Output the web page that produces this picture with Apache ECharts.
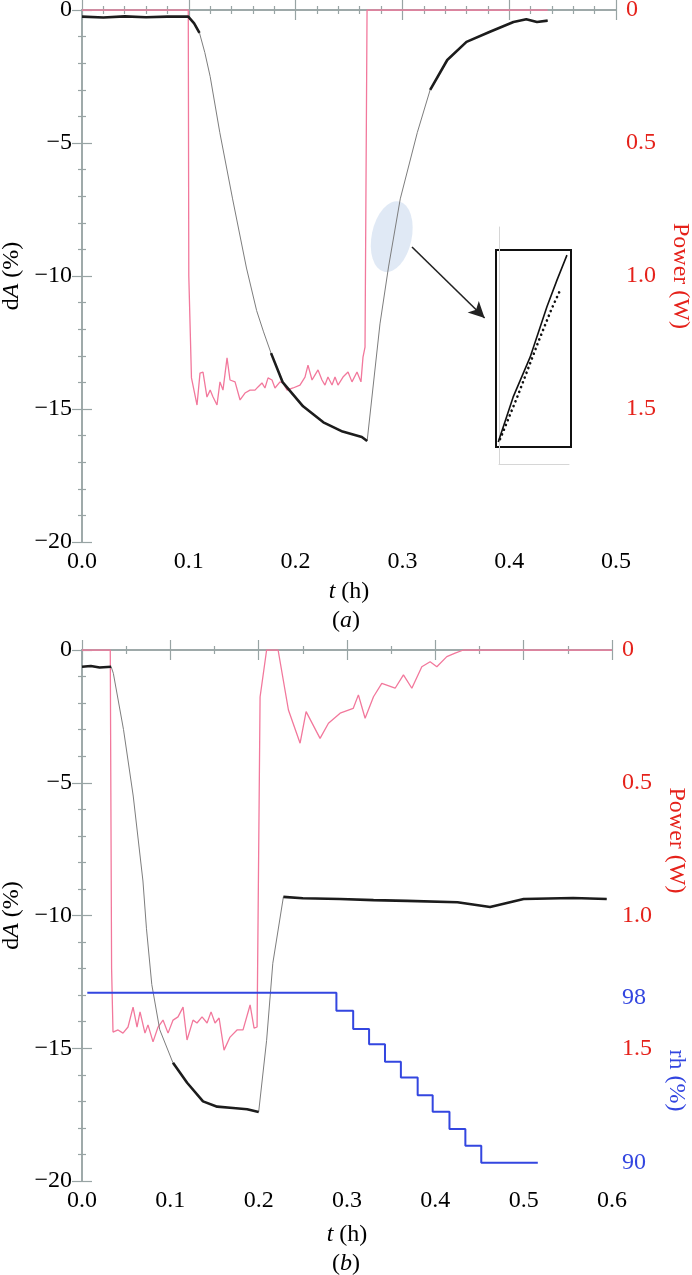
<!DOCTYPE html>
<html>
<head>
<meta charset="utf-8">
<script src="https://cdn.jsdelivr.net/npm/echarts@6/dist/echarts.min.js"></script>
<style>
  html, body { margin: 0; padding: 0; background: #fff; }
  #chart { width: 692px; height: 1275px; }
</style>
</head>
<body>
<div id="chart"></div>
<script>
// ---- panel (a) : [t (h), value] ----
var dA_a = [
  [0, -0.25], [0.02, -0.28], [0.04, -0.24], [0.06, -0.27], [0.08, -0.25], [0.0995, -0.25],
  [0.105, -0.5], [0.110, -0.86], [0.115, -1.6], [0.120, -2.5], [0.129, -4.6], [0.141, -7.1],
  [0.154, -9.7], [0.1635, -11.3], [0.170, -12.1], [0.177, -12.9], [0.188, -14.0], [0.207, -14.9],
  [0.226, -15.5], [0.244, -15.85], [0.262, -16.05], [0.267, -16.2],
  [0.279, -11.8], [0.287, -9.66], [0.298, -7.1], [0.314, -4.6], [0.326, -3.0], [0.342, -1.88],
  [0.360, -1.2], [0.382, -0.82], [0.404, -0.45], [0.416, -0.35], [0.426, -0.45], [0.436, -0.4]
];
var power_a = [
  [0, 0], [0.0995, 0], [0.1, 1.0], [0.1025, 1.383], [0.1077, 1.485], [0.1105, 1.365], [0.1133, 1.361],
  [0.117, 1.455], [0.12, 1.429], [0.1227, 1.455], [0.1264, 1.485], [0.1292, 1.398], [0.132, 1.429],
  [0.1358, 1.308], [0.1386, 1.391], [0.1433, 1.398], [0.148, 1.466], [0.1526, 1.44], [0.1573, 1.429],
  [0.162, 1.429], [0.1648, 1.417], [0.1685, 1.402], [0.1713, 1.421], [0.1742, 1.383], [0.1779, 1.391],
  [0.1807, 1.421], [0.1854, 1.398], [0.1882, 1.402], [0.192, 1.429], [0.1976, 1.421], [0.2041, 1.41],
  [0.2088, 1.38], [0.2116, 1.335], [0.2154, 1.391], [0.2182, 1.372], [0.221, 1.353], [0.2247, 1.391],
  [0.2275, 1.41], [0.2303, 1.38], [0.2341, 1.41], [0.2369, 1.38], [0.2397, 1.41], [0.2444, 1.38],
  [0.2491, 1.361], [0.2528, 1.398], [0.2575, 1.361], [0.2612, 1.398], [0.2631, 1.305], [0.265, 1.267],
  [0.2669, 0], [0.436, 0]
];
// magnified detail (inset, normalised 0..1)
var insetSolid = [[0.03, 0.025], [0.228, 0.253], [0.455, 0.456], [0.679, 0.712], [0.813, 0.847], [0.946, 0.974]];
var insetDotted = [[0.054, 0.04], [0.29, 0.26], [0.56, 0.53], [0.74, 0.70], [0.86, 0.80]];
var highlight = [[0.29, -8.52]];
var arrowFrom = [0.309, -8.91];
var arrowTo = [0.377, -11.58];

// ---- panel (b) ----
var dA_b = [
  [0, -0.63], [0.01, -0.6], [0.02, -0.66], [0.033, -0.63], [0.0355, -0.88], [0.047, -3.0],
  [0.058, -5.5], [0.069, -8.7], [0.073, -10.5], [0.079, -12.6], [0.088, -14.3], [0.103, -15.55],
  [0.119, -16.3], [0.137, -17.0], [0.153, -17.2], [0.171, -17.25], [0.187, -17.3], [0.2, -17.4],
  [0.209, -14.7], [0.216, -11.8], [0.228, -9.3], [0.25, -9.35], [0.292, -9.38], [0.33, -9.42],
  [0.368, -9.45], [0.425, -9.5], [0.462, -9.68], [0.5, -9.38], [0.556, -9.34], [0.594, -9.38]
];
var power_b = [
  [0, 0], [0.032, 0], [0.0335, 1.2], [0.0351, 1.439], [0.0408, 1.431], [0.0464, 1.443], [0.0521, 1.42],
  [0.0578, 1.345], [0.0623, 1.42], [0.0657, 1.363], [0.0713, 1.443], [0.0747, 1.412], [0.0804, 1.476],
  [0.0861, 1.42], [0.0917, 1.394], [0.0974, 1.443], [0.1031, 1.394], [0.1087, 1.382], [0.1144, 1.345],
  [0.1189, 1.469], [0.1257, 1.394], [0.1302, 1.405], [0.1359, 1.382], [0.1416, 1.405], [0.1461, 1.363],
  [0.1506, 1.405], [0.1552, 1.386], [0.1608, 1.507], [0.1676, 1.458], [0.1755, 1.431], [0.1823, 1.431],
  [0.1903, 1.337], [0.1948, 1.424], [0.1982, 1.42], [0.2016, 0.177], [0.209, 0], [0.222, 0],
  [0.2337, 0.226], [0.2469, 0.351], [0.2537, 0.232], [0.2695, 0.333], [0.279, 0.276], [0.2922, 0.238],
  [0.307, 0.22], [0.3129, 0.169], [0.3205, 0.257], [0.33, 0.176], [0.3394, 0.126], [0.3545, 0.144],
  [0.3639, 0.094], [0.3734, 0.144], [0.3847, 0.063], [0.3941, 0.044], [0.4017, 0.063], [0.413, 0.025],
  [0.4224, 0.012], [0.4318, 0], [0.6, 0]
];
var rh_b = [
  [0.006, 98.26], [0.288, 97.38], [0.307, 96.5], [0.325, 95.76], [0.343, 94.91], [0.361, 94.14],
  [0.380, 93.28], [0.397, 92.49], [0.416, 91.65], [0.434, 90.84], [0.452, 90.01], [0.516, 90.01]
];

// tick labels
var xLabels = ['0.0', '0.1', '0.2', '0.3', '0.4', '0.5', '0.6'];
var powerLabels = ['0', '0.5', '1.0', '1.5'];
var rhLabels = [90, 98];

var FONT = 'Liberation Serif';
var AXIS = '#98a4a4';
var RED = '#e5221b';
var BLUE = '#3346e0';
var PINK = '#f2789c';

var rich = {
  n: { fontFamily: FONT, fontSize: 24, color: '#000', fontWeight: 'normal' },
  i: { fontFamily: FONT, fontSize: 24, color: '#000', fontWeight: 'normal', fontStyle: 'italic' }
};

function fmtDA(v) { return v < 0 ? '\u2212' + Math.abs(v) : String(v); }

// keep only gently sloping stretches (drawn thicker, like the dense noisy parts)
function plateau(pts, maxSlope) {
  var out = [];
  for (var i = 0; i < pts.length - 1; i++) {
    var s = Math.abs((pts[i + 1][1] - pts[i][1]) / (pts[i + 1][0] - pts[i][0]));
    if (s < maxSlope) out.push(pts[i], pts[i + 1]);
    else out.push([pts[i][0], null]);
  }
  return out;
}

function xAx(grid, max, minorSplit, pos, withLabel, nameGap) {
  var ax = {
    type: 'value', gridIndex: grid, min: 0, max: max, interval: 0.1, position: pos,
    axisLine: { lineStyle: { color: AXIS, width: 1.5 } },
    axisTick: { inside: true, length: 10, lineStyle: { color: AXIS, width: 1.2 } },
    minorTick: { show: true, splitNumber: minorSplit, length: 4, lineStyle: { color: AXIS, width: 1.2 } },
    splitLine: { show: false },
    axisLabel: { show: withLabel, fontFamily: FONT, fontSize: 24, color: '#000', margin: 8,
      formatter: function (v) { return xLabels[Math.round(v * 10)]; } }
  };
  if (withLabel) {
    ax.name = '{i|t}{n| (h)}';
    ax.nameLocation = 'middle';
    ax.nameGap = nameGap;
    ax.nameTextStyle = { rich: rich };
  }
  return ax;
}

function dAAxis(grid) {
  return {
    type: 'value', gridIndex: grid, min: -20, max: 0, interval: 5, position: 'left',
    axisLine: { lineStyle: { color: AXIS, width: 1.5 } },
    axisTick: { inside: true, length: 10, lineStyle: { color: AXIS, width: 1.2 } },
    minorTick: { show: true, splitNumber: 5, length: 4, lineStyle: { color: AXIS, width: 1.2 } },
    splitLine: { show: false },
    axisLabel: { fontFamily: FONT, fontSize: 24, color: '#000', margin: 10, formatter: fmtDA },
    name: '{n|d}{i|A}{n| (%)}', nameLocation: 'middle', nameGap: 56, nameRotate: 90,
    nameTextStyle: { rich: rich }
  };
}

function powerAxis(grid, shift) {
  var pad = shift < 0 ? [0, -2 * shift, 0, 0] : [0, 0, 0, 2 * shift];
  return {
    type: 'value', gridIndex: grid, min: 0, max: 2, interval: 0.5, inverse: true, position: 'right',
    axisLine: { lineStyle: { color: AXIS, width: 1.5 } },
    axisTick: { inside: true, length: 10, lineStyle: { color: AXIS, width: 1.2 } },
    minorTick: { show: true, splitNumber: 5, length: 4, lineStyle: { color: AXIS, width: 1.2 } },
    splitLine: { show: false },
    axisLabel: { fontFamily: FONT, fontSize: 24, color: RED, margin: 10,
      formatter: function (v) { return powerLabels[Math.round(v / 0.5)] || ''; } },
    name: 'Power (W)', nameLocation: 'middle', nameGap: 52, nameRotate: -90,
    nameTextStyle: { fontFamily: FONT, fontSize: 24, color: RED, padding: pad }
  };
}

var curveLine = { showSymbol: false, symbol: 'none' };

var chart = echarts.init(document.getElementById('chart'));
chart.setOption({
  animation: false,
  backgroundColor: '#fff',
  title: [
    { text: '{n|(}{i|a}{n|)}', left: 'center', top: 609, padding: 0, textStyle: { rich: rich } },
    { text: '{n|(}{i|b}{n|)}', left: 'center', top: 1252, padding: 0, textStyle: { rich: rich } }
  ],
  grid: [
    { left: 82, top: 10, width: 534, height: 532, outerBoundsMode: 'none' },
    { left: 82, top: 650, width: 530, height: 531, outerBoundsMode: 'none' },
    { left: 499, top: 227, width: 70, height: 237, outerBoundsMode: 'none' },
    { left: 496, top: 250, width: 75, height: 197, show: true, borderColor: '#111', borderWidth: 2,
      backgroundColor: 'transparent', outerBoundsMode: 'none' }
  ],
  xAxis: [
    xAx(0, 0.5, 5, 'bottom', true, 38),
    xAx(0, 0.5, 5, 'top', false),
    xAx(1, 0.6, 2, 'bottom', true, 42),
    xAx(1, 0.6, 2, 'top', false),
    { type: 'value', gridIndex: 2, min: 0, max: 1, axisLine: { lineStyle: { color: '#d6d6d6', width: 1 } },
      axisTick: { show: false }, axisLabel: { show: false }, splitLine: { show: false } },
    { type: 'value', gridIndex: 3, min: 0, max: 1, show: false }
  ],
  yAxis: [
    dAAxis(0),
    powerAxis(0, 0),
    dAAxis(1),
    powerAxis(1, -75),
    { type: 'value', gridIndex: 1, min: 89.127, max: 114.873, position: 'right',
      axisLine: { show: false }, axisTick: { show: false }, splitLine: { show: false },
      axisLabel: { fontFamily: FONT, fontSize: 24, color: BLUE, margin: 10, customValues: rhLabels },
      name: 'rh (%)', nameLocation: 'middle', nameGap: 52, nameRotate: -90,
      nameTextStyle: { fontFamily: FONT, fontSize: 24, color: BLUE, padding: [0, 0, 0, 330] } },
    { type: 'value', gridIndex: 2, min: 0, max: 1, position: 'right',
      axisLine: { lineStyle: { color: '#d6d6d6', width: 1 } },
      axisTick: { show: false }, axisLabel: { show: false }, splitLine: { show: false } },
    { type: 'value', gridIndex: 3, min: 0, max: 1, show: false }
  ],
  series: [
    // highlighted region + arrow pointing at the inset
    { type: 'scatter', xAxisIndex: 0, yAxisIndex: 0, data: highlight, silent: true, z: 1,
      symbol: 'path://M0,-1A1,1,0,1,1,0,1A1,1,0,1,1,0,-1Z', symbolSize: [40, 72], symbolRotate: -12,
      itemStyle: { color: 'rgba(190,208,234,0.6)' },
      markLine: { silent: true, symbol: ['none', 'arrow'], symbolSize: [12, 16], label: { show: false },
        lineStyle: { color: '#222', width: 1.6, type: 'solid' },
        data: [[{ coord: arrowFrom }, { coord: arrowTo }]] } },
    { type: 'line', xAxisIndex: 0, yAxisIndex: 1, data: power_a, showSymbol: false, symbol: 'none',
      lineStyle: { color: PINK, width: 1.3 }, z: 2 },
    Object.assign({ type: 'line', xAxisIndex: 0, yAxisIndex: 0, data: dA_a,
      lineStyle: { color: '#7d7d7d', width: 1 }, z: 3 }, curveLine),
    Object.assign({ type: 'line', xAxisIndex: 0, yAxisIndex: 0, data: plateau(dA_a, 105), connectNulls: false,
      lineStyle: { color: '#1c1c1c', width: 2.6 }, z: 4 }, curveLine),
    // inset
    { type: 'line', xAxisIndex: 5, yAxisIndex: 6, data: insetSolid, showSymbol: false, symbol: 'none',
      lineStyle: { color: '#111', width: 1.6 }, z: 5 },
    { type: 'line', xAxisIndex: 5, yAxisIndex: 6, data: insetDotted, showSymbol: false, symbol: 'none',
      lineStyle: { color: '#111', width: 2.6, type: [0.1, 5], cap: 'round' }, z: 5 },
    // panel (b)
    { type: 'line', xAxisIndex: 2, yAxisIndex: 3, data: power_b, showSymbol: false, symbol: 'none',
      lineStyle: { color: PINK, width: 1.3 }, z: 2 },
    Object.assign({ type: 'line', xAxisIndex: 2, yAxisIndex: 2, data: dA_b,
      lineStyle: { color: '#7d7d7d', width: 1 }, z: 3 }, curveLine),
    Object.assign({ type: 'line', xAxisIndex: 2, yAxisIndex: 2, data: plateau(dA_b, 72), connectNulls: false,
      lineStyle: { color: '#1c1c1c', width: 2.6 }, z: 4 }, curveLine),
    { type: 'line', xAxisIndex: 2, yAxisIndex: 4, data: rh_b, step: 'end', showSymbol: false, symbol: 'none',
      lineStyle: { color: BLUE, width: 2 }, z: 6 }
  ]
});
</script>
</body>
</html>
